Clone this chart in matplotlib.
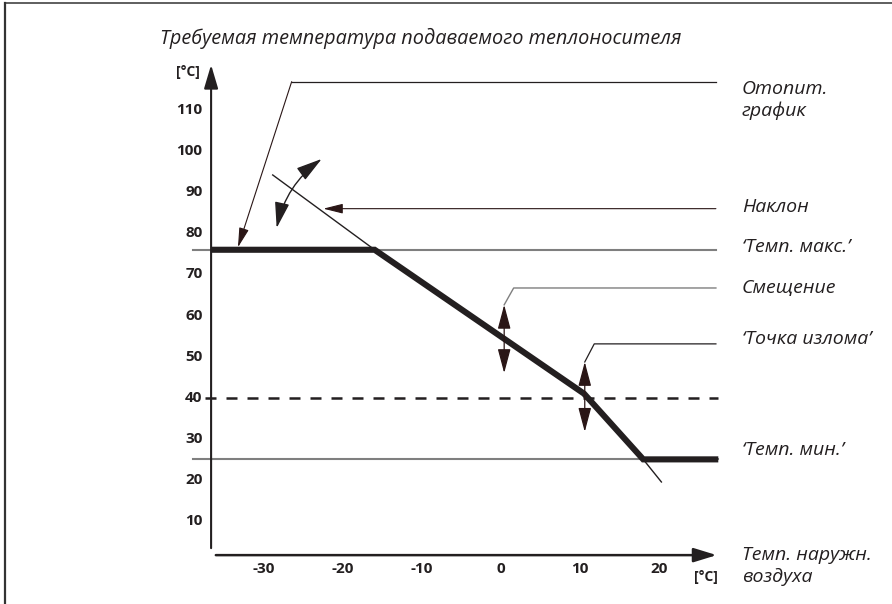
import matplotlib
matplotlib.use("Agg")
import matplotlib.pyplot as plt
from matplotlib.lines import Line2D

plt.rcParams["font.family"] = ["Open Sans", "DejaVu Sans"]

# data
title = "Требуемая температура подаваемого теплоносителя"
x_ticks = [-30, -20, -10, 0, 10, 20]
y_ticks = [10, 20, 30, 40, 50, 60, 70, 80, 90, 100, 110]

t_max = 76
t_min = 25
t_break = 40

curve_x = [-36.7, -16.0, 10.5, 18.0, 27.5]
curve_y = [t_max, t_max, 41.0, t_min, t_min]

slope_top = [(-28.9, 94.2), (-16.0, 76.0)]
slope_bottom = [(18.0, 25.0), (20.3, 19.5)]

shift_arrow = (0.4, 46.0, 62.6)
break_arrow = (10.6, 31.7, 48.7)
rot_arrow = [(-28.4, 81.3), (-22.7, 98.1)]

labels = [
    ("Отопит.\nграфик", 112.4),
    ("Наклон", 86.4),
    ("‘Темп. макс.’", 76.6),
    ("Смещение", 66.7),
    ("‘Точка излома’", 54.2),
    ("‘Темп. мин.’", 27.3),
    ("Темп. наружн.\nвоздуха", -1.0),
]

ink = "#231f20"
grey = "#7f7f7f"
head = "#2a1616"

fig = plt.figure(figsize=(8.92, 6.04), dpi=100)
ax = fig.add_axes([0, 0, 1, 1])
ax.set_xlim(-63.42, 49.49)
ax.set_ylim(-10.19, 136.77)
ax.axis("off")

# frame
fig.add_artist(Line2D([5 / 892, 5 / 892], [0, 1 - 3 / 604], color="#333333", lw=1.6))
fig.add_artist(Line2D([5 / 892, 1], [1 - 3 / 604, 1 - 3 / 604], color="#333333", lw=1.1))

# axes arrows
ax.annotate("", xy=(-36.7, 121.0), xytext=(-36.7, 3.4),
            arrowprops=dict(arrowstyle="-|>,head_length=1.45,head_width=0.43",
                            color=ink, lw=1.5, shrinkA=0, shrinkB=0))
ax.annotate("", xy=(27.3, 1.7), xytext=(-36.1, 1.7),
            arrowprops=dict(arrowstyle="-|>,head_length=1.4,head_width=0.43",
                            color=ink, lw=1.8, shrinkA=0, shrinkB=0))

for v in x_ticks:
    ax.text(v, -1.7, str(v), ha="center", va="center", fontsize=11,
            fontweight="bold", color=ink)
for v in y_ticks:
    ax.text(-37.8, v, str(v), ha="right", va="center", fontsize=11,
            fontweight="bold", color=ink)
ax.text(-39.6, 119.3, "[°C]", ha="center", va="center", fontsize=10,
        fontweight="bold", color=ink)
ax.text(25.9, -3.6, "[°C]", ha="center", va="center", fontsize=10,
        fontweight="bold", color=ink)

ax.text(-43.2, 127.3, title, ha="left", va="center", fontsize=14.3,
        style="italic", color=ink)

# reference lines
ax.plot([-39.0, 27.2], [t_max, t_max], color=grey, lw=1.5)
ax.plot([-39.0, 27.5], [t_min, t_min], color=grey, lw=1.5)
ax.plot([-37.5, 27.5], [t_break, t_break], color=ink, lw=1.8,
        linestyle=(0, (4.4, 4.0)))

# slope guide lines
ax.plot([p[0] for p in slope_top], [p[1] for p in slope_top], color=ink, lw=1.0)
ax.plot([p[0] for p in slope_bottom], [p[1] for p in slope_bottom], color=ink, lw=1.0)

# heating curve
ax.plot(curve_x, curve_y, color=ink, lw=4.4, solid_joinstyle="miter",
        solid_capstyle="butt")

small = dict(arrowstyle="-|>,head_length=1.2,head_width=0.3",
             color=head, lw=0.8, shrinkA=0, shrinkB=0)

# 'Отопит. график' leader
ax.plot([-26.5, 27.2], [116.9, 116.9], color=ink, lw=0.9)
ax.annotate("", xy=(-33.3, 76.6), xytext=(-26.5, 116.9), arrowprops=small)

# 'Наклон' leader
ax.annotate("", xy=(-22.5, 86.0), xytext=(27.2, 86.0), arrowprops=small)

# 'Смещение' leader
ax.plot([27.2, 1.6, shift_arrow[0]], [66.7, 66.7, shift_arrow[2]], color=grey, lw=1.0)
# 'Точка излома' leader
ax.plot([27.2, 11.8, break_arrow[0]], [53.1, 53.1, break_arrow[2]], color=ink, lw=0.9)

dbl = dict(arrowstyle="<|-|>,head_length=1.5,head_width=0.4",
           color=head, lw=0.9, shrinkA=0, shrinkB=0)
ax.annotate("", xy=(shift_arrow[0], shift_arrow[1]),
            xytext=(shift_arrow[0], shift_arrow[2]), arrowprops=dbl)
ax.annotate("", xy=(break_arrow[0], break_arrow[1]),
            xytext=(break_arrow[0], break_arrow[2]), arrowprops=dbl)

# rotation arrow
ax.annotate("", xy=rot_arrow[1], xytext=rot_arrow[0],
            arrowprops=dict(arrowstyle="<|-|>,head_length=1.6,head_width=0.45",
                            color=ink, lw=1.0, shrinkA=0, shrinkB=0,
                            connectionstyle="arc3,rad=-0.19"))

for text, yv in labels:
    ax.text(30.5, yv, text, ha="left", va="center", fontsize=14,
            style="italic", color=ink, linespacing=1.25)

fig.savefig("out.png", dpi=100)
